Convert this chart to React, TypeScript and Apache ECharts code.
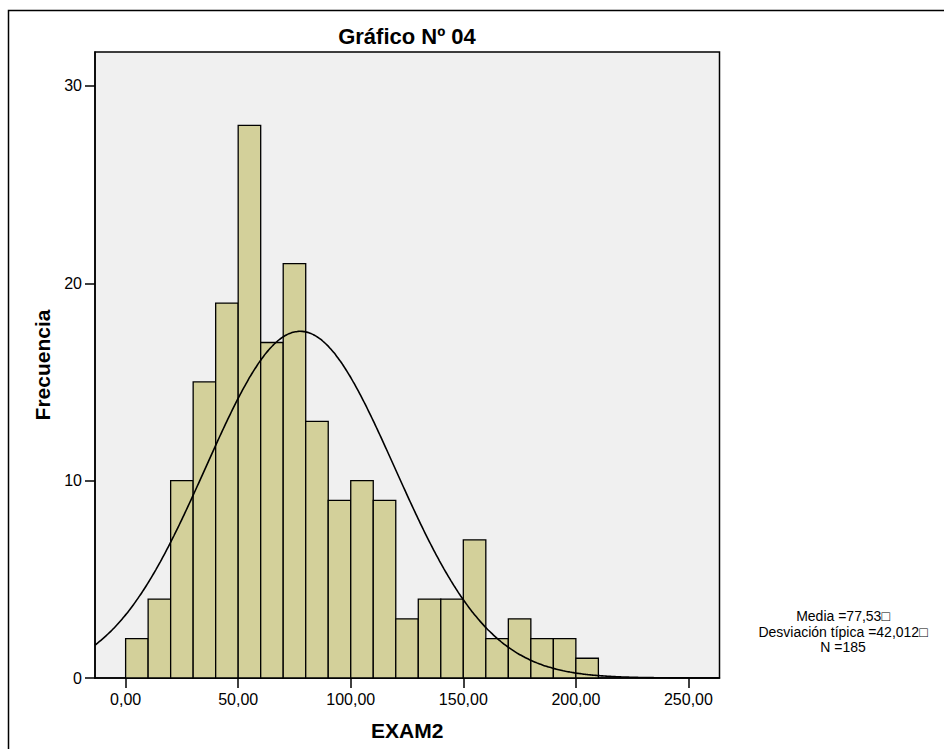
import React, { useEffect, useRef } from "react";
import * as echarts from "echarts";

// ---- data ----
const binStarts = [0, 10, 20, 30, 40, 50, 60, 70, 80, 90, 100, 110, 120, 130, 140, 150, 160, 170, 180, 190, 200];
const frequencies = [2, 4, 10, 15, 19, 28, 17, 21, 13, 9, 10, 9, 3, 4, 4, 7, 2, 3, 2, 2, 1];
const binWidth = 10;
const mean = 77.53;
const stdDev = 42.012;
const nCount = 185;
const xTicks = [0, 50, 100, 150, 200, 250];
const yTicks = [0, 10, 20, 30];
const xMin = -13.6;
const xMax = 263.8;
const yMax = 31.72;
const statLines = ["Media =77,53\u25A1", "Desviación típica =42,012\u25A1", "N =185"];

const FONT = "Liberation Sans, Arial, Helvetica, sans-serif";
const NARROW = "Liberation Sans Narrow, Arial Narrow, Liberation Sans, Arial, sans-serif";

export default function App() {
  const ref = useRef<HTMLDivElement>(null);
  useEffect(() => {
    if (!ref.current) return;
    const chart = echarts.init(ref.current, null, { renderer: "svg" });

    const bars = binStarts.map((s, i) => [s, s + binWidth, frequencies[i]]);
    // fitted normal curve from the reported mean / sd / N
    const curve: number[][] = [];
    const k = (nCount * binWidth) / (stdDev * Math.sqrt(2 * Math.PI));
    for (let x = xMin; x <= xMax + 0.001; x += 1) {
      const z = (x - mean) / stdDev;
      curve.push([x, k * Math.exp(-0.5 * z * z)]);
    }

    chart.setOption({
      animation: false,
      backgroundColor: "#ffffff",
      textStyle: { fontFamily: FONT },
      grid: {
        left: 95,
        top: 52,
        width: 624.5,
        height: 626,
        show: true,
        backgroundColor: "#f0f0f0",
        borderColor: "#000",
        borderWidth: 1.5,
      },
      xAxis: {
        type: "value",
        min: xMin,
        max: xMax,
        name: "EXAM2",
        nameLocation: "middle",
        nameGap: 42,
        nameTextStyle: { fontFamily: FONT, fontWeight: "bold", fontSize: 21, color: "#000" },
        axisLine: { show: true, onZero: false, lineStyle: { color: "#000", width: 1.5 } },
        axisTick: { show: true, customValues: xTicks, length: 10, lineStyle: { color: "#000", width: 1.5 } },
        axisLabel: {
          customValues: xTicks,
          color: "#000",
          fontSize: 16,
          fontFamily: FONT,
          margin: 13,
          formatter: (v: number) => v.toFixed(2).replace(".", ","),
        },
        splitLine: { show: false },
      },
      yAxis: {
        type: "value",
        min: 0,
        max: yMax,
        name: "Frecuencia",
        nameLocation: "middle",
        nameGap: 36,
        nameTextStyle: { fontFamily: FONT, fontWeight: "bold", fontSize: 21, color: "#000" },
        axisLine: { show: true, onZero: false, lineStyle: { color: "#000", width: 1.5 } },
        axisTick: { show: true, customValues: yTicks, length: 10, lineStyle: { color: "#000", width: 1.5 } },
        axisLabel: { customValues: yTicks, color: "#000", fontSize: 16, fontFamily: FONT, margin: 13 },
        splitLine: { show: false },
      },
      graphic: [
        {
          type: "rect",
          shape: { x: 8.5, y: 10.5, width: 1200, height: 1200 },
          style: { fill: "none", stroke: "#000", lineWidth: 1.5 },
          silent: true,
          z: -1,
        },
        {
          type: "text",
          x: 407,
          y: 36,
          style: {
            text: "Gráfico Nº 04",
            fontFamily: NARROW,
            fontWeight: "bold",
            fontSize: 22,
            fill: "#000",
            textAlign: "center",
            textVerticalAlign: "middle",
          },
        },
        ...statLines.map((t, i) => ({
          type: "text",
          x: 843,
          y: 616 + i * 15.5,
          style: {
            text: t,
            fontFamily: FONT,
            fontSize: 14,
            fill: "#000",
            textAlign: "center",
            textVerticalAlign: "middle",
          },
        })),
      ],
      series: [
        {
          type: "custom",
          data: bars,
          encode: { x: [0, 1], y: 2 },
          renderItem: (_p: any, api: any) => {
            const s = api.value(0);
            const e = api.value(1);
            const c = api.value(2);
            const p1 = api.coord([s, c]);
            const p2 = api.coord([e, 0]);
            return {
              type: "rect",
              shape: { x: p1[0], y: p1[1], width: p2[0] - p1[0], height: p2[1] - p1[1] },
              style: { fill: "#d3d09a", stroke: "#000", lineWidth: 1.3 },
            };
          },
          z: 2,
        },
        {
          type: "line",
          data: curve,
          showSymbol: false,
          smooth: true,
          clip: true,
          lineStyle: { color: "#000", width: 1.6 },
          z: 3,
        },
      ],
    });
    return () => chart.dispose();
  }, []);

  return (
    <div
      ref={ref}
      style={{ position: "absolute", left: 0, top: 0, width: 944, height: 749 }}
    />
  );
}
